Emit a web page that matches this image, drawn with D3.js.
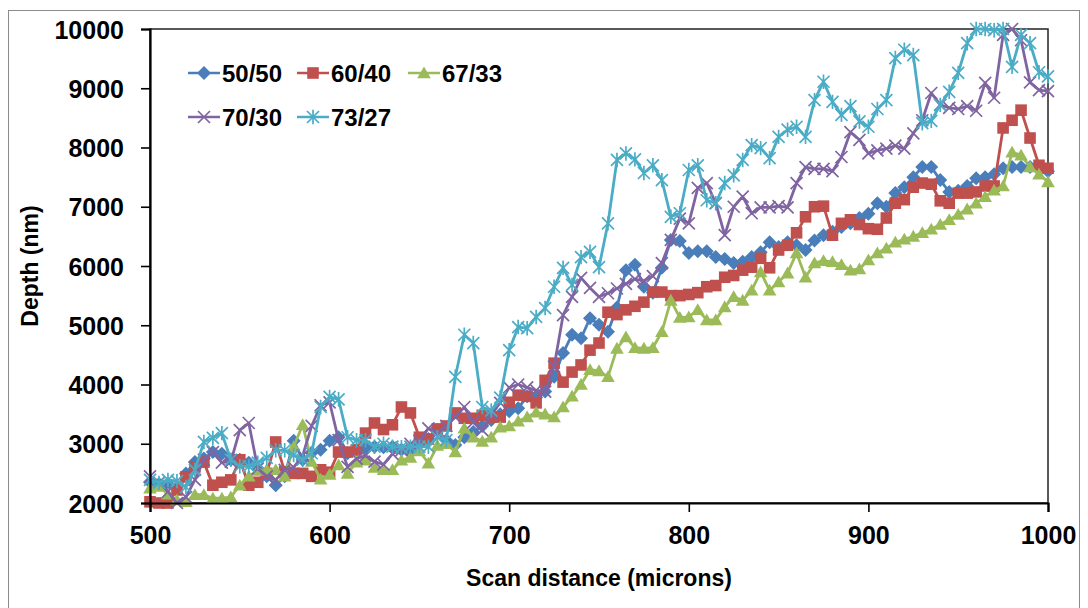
<!DOCTYPE html>
<html>
<head>
<meta charset="utf-8">
<script src="https://cdn.jsdelivr.net/npm/d3@7"></script>
<style>
body { margin: 0; background: #fff; }
text { font-family: "Liberation Sans", Arial, sans-serif; font-weight: bold; fill: #000; }
</style>
</head>
<body>
<svg id="chart"></svg>
<script>
// scan positions (microns)
const scanX = [
	500, 505, 510, 515, 520, 525, 530, 535, 540, 545,
	550, 555, 560, 565, 570, 575, 580, 585, 590, 595,
	600, 605, 610, 615, 620, 625, 630, 635, 640, 645,
	650, 655, 660, 665, 670, 675, 680, 685, 690, 695,
	700, 705, 710, 715, 720, 725, 730, 735, 740, 745,
	750, 755, 760, 765, 770, 775, 780, 785, 790, 795,
	800, 805, 810, 815, 820, 825, 830, 835, 840, 845,
	850, 855, 860, 865, 870, 875, 880, 885, 890, 895,
	900, 905, 910, 915, 920, 925, 930, 935, 940, 945,
	950, 955, 960, 965, 970, 975, 980, 985, 990, 995,
	1000
];

// depth (nm) for each ratio
const depth5050 = [
	2350, 2320, 2320, 2270, 2500, 2690, 2750, 2860, 2830, 2730,
	2730, 2680, 2580, 2450, 2300, 2450, 3050, 2730, 2850, 2900,
	3050, 3110, 2840, 2900, 2930, 2950, 2940, 2950, 2900, 2850,
	3000, 3080, 3230, 3060, 2980, 3110, 3200, 3300, 3400, 3500,
	3550, 3600, 3800, 3780, 3880, 4130, 4530, 4840, 4780, 5120,
	5010, 4890, 5300, 5930, 6020, 5650, 5550, 5970, 6440, 6420,
	6220, 6250, 6250, 6150, 6120, 6050, 6070, 6150, 6230, 6400,
	6320, 6400, 6350, 6270, 6430, 6520, 6580, 6660, 6720, 6810,
	6880, 7060, 7000, 7230, 7330, 7500, 7670, 7670, 7450, 7250,
	7270, 7350, 7480, 7500, 7550, 7650, 7670, 7670, 7670, 7650,
	7600
];
const depth6040 = [
	2020, 2000, 2000, 2220, 2440, 2610, 2690, 2300, 2350, 2390,
	2730, 2300, 2350, 2500, 3030, 2530, 2500, 2500, 2450, 2560,
	2520, 2860, 2860, 2900, 3180, 3350, 3240, 3320, 3620, 3520,
	3110, 3080, 3250, 3300, 3520, 3430, 3430, 3480, 3450, 3450,
	3700, 3820, 3800, 3690, 4070, 4360, 4040, 4210, 4330, 4580,
	4700, 5220, 5180, 5260, 5320, 5390, 5560, 5560, 5500, 5500,
	5520, 5550, 5650, 5670, 5810, 5840, 5930, 5980, 6130, 5970,
	6270, 6350, 6560, 6830, 7000, 7010, 6520, 6720, 6780, 6700,
	6630, 6620, 6810, 7060, 7120, 7330, 7400, 7380, 7100, 7060,
	7230, 7230, 7250, 7350, 7350, 8330, 8460, 8630, 8160, 7700,
	7650
];
const depth6733 = [
	2250, 2280, 2150, 2050, 2020, 2140, 2140, 2080, 2080, 2100,
	2300, 2450, 2550, 2560, 2560, 2450, 2950, 3320, 2700, 2400,
	2480, 2640, 2500, 2690, 2720, 2600, 2560, 2560, 2720, 2770,
	2880, 2670, 2970, 3000, 2860, 3260, 3110, 3040, 3110, 3280,
	3300, 3380, 3450, 3530, 3500, 3450, 3620, 3800, 4000, 4250,
	4230, 4130, 4610, 4800, 4620, 4610, 4620, 4890, 5420, 5130,
	5140, 5260, 5090, 5090, 5310, 5480, 5420, 5590, 5900, 5590,
	5730, 5880, 6220, 5810, 6050, 6090, 6070, 6020, 5930, 5950,
	6100, 6220, 6300, 6400, 6450, 6500, 6560, 6620, 6700, 6780,
	6870, 6960, 7060, 7170, 7280, 7350, 7920, 7870, 7670, 7550,
	7420
];
const depth7030 = [
	2450, 2350, 2190, 2000, 2100, 2390, 2730, 2860, 2680, 2700,
	3230, 3350, 2580, 2450, 2390, 2560, 2600, 2800, 3300, 3650,
	3700, 3060, 2610, 2750, 2800, 2700, 2650, 2830, 2890, 3000,
	3050, 3260, 3180, 3300, 3450, 3620, 3360, 3230, 3500, 3690,
	3950, 4000, 3950, 3900, 3880, 4300, 5170, 5480, 5800, 5630,
	5480, 5540, 5620, 5700, 5780, 5750, 5830, 6050, 6440, 6800,
	6720, 7320, 7400, 7060, 6520, 7000, 7170, 6890, 6990, 6990,
	7010, 6990, 7400, 7670, 7640, 7640, 7600, 7840, 8260, 8130,
	7900, 7950, 7980, 8030, 7980, 8240, 8460, 8920, 8720, 8670,
	8650, 8700, 8620, 9090, 8840, 9900, 10000, 9810, 9100, 8970,
	8950
];
const depth7327 = [
	2390, 2340, 2390, 2370, 2270, 2560, 3030, 3100, 3180, 2730,
	2620, 2620, 2680, 2760, 2890, 2890, 2810, 2730, 2840, 3620,
	3790, 3750, 3110, 3060, 3060, 2950, 3000, 2950, 2940, 2950,
	2950, 2950, 3110, 3060, 4130, 4840, 4700, 3620, 3560, 3780,
	4580, 4970, 4950, 5140, 5290, 5650, 5970, 5680, 6150, 6240,
	5980, 6720, 7790, 7900, 7800, 7570, 7700, 7450, 6830, 6890,
	7620, 7700, 7110, 7060, 7400, 7530, 7790, 8040, 7990, 7820,
	8180, 8300, 8350, 8180, 8800, 9110, 8770, 8550, 8700, 8440,
	8350, 8650, 8800, 9510, 9650, 9560, 8410, 8450, 8720, 8940,
	9260, 9760, 10000, 10000, 9980, 10000, 9360, 9900, 9760, 9270,
	9200
];

const seriesNames = ["50/50", "60/40", "67/33", "70/30", "73/27"];
const seriesValues = [depth5050, depth6040, depth6733, depth7030, depth7327];
const seriesColors = ["#4A7EBB", "#C0504D", "#9BBB59", "#8064A2", "#4BACC6"];
const seriesMarkers = ["diamond", "square", "triangle", "x", "star"];
const xTicks = [500, 600, 700, 800, 900, 1000];
const yTicks = [2000, 3000, 4000, 5000, 6000, 7000, 8000, 9000, 10000];

const width = 1088;
const height = 608;
const plot = { left: 150, right: 1048, top: 29, bottom: 503 };

const svg = d3.select("#chart")
	.attr("width", width)
	.attr("height", height);

// outer frame
svg.append("rect")
	.attr("x", 8.5).attr("y", 10.5)
	.attr("width", 1071).attr("height", 620)
	.attr("fill", "none")
	.attr("stroke", "#8c8c8c")
	.attr("stroke-width", 1);

const xScale = d3.scaleLinear([500, 1000], [plot.left, plot.right]);
const yScale = d3.scaleLinear([2000, 10000], [plot.bottom, plot.top]);

// plot box
svg.append("rect")
	.attr("x", plot.left).attr("y", plot.top)
	.attr("width", plot.right - plot.left)
	.attr("height", plot.bottom - plot.top)
	.attr("fill", "none")
	.attr("stroke", "#222")
	.attr("stroke-width", 1.5);

function markerPath(type, r) {
	switch (type) {
		case "diamond": return `M0,${-r}L${r},0L0,${r}L${-r},0Z`;
		case "square": return `M${-r},${-r}H${r}V${r}H${-r}Z`;
		case "triangle": return `M0,${-r * 1.05}L${r * 1.1},${r * 0.85}L${-r * 1.1},${r * 0.85}Z`;
		case "x": return `M${-r},${-r}L${r},${r}M${-r},${r}L${r},${-r}`;
		case "star": return `M${-r},${-r}L${r},${r}M${-r},${r}L${r},${-r}M0,${-r * 1.2}V${r * 1.2}`;
	}
}
const markerSize = { diamond: 7, square: 5.8, triangle: 6.2, x: 6, star: 6 };

function drawMarker(g, type, color) {
	const filled = type === "diamond" || type === "square" || type === "triangle";
	g.append("path")
		.attr("d", markerPath(type, markerSize[type]))
		.attr("fill", filled ? color : "none")
		.attr("stroke", color)
		.attr("stroke-width", filled ? 0 : 1.7);
}

const line = d3.line()
	.x((d, i) => xScale(scanX[i]))
	.y(d => yScale(d));

seriesValues.forEach((values, k) => {
	const g = svg.append("g");
	g.append("path")
		.datum(values)
		.attr("d", line)
		.attr("fill", "none")
		.attr("stroke", seriesColors[k])
		.attr("stroke-width", 2.8)
		.attr("stroke-linejoin", "round");
	g.selectAll("g.mk")
		.data(values)
		.join("g")
		.attr("class", "mk")
		.attr("transform", (d, i) => `translate(${xScale(scanX[i])},${yScale(d)})`)
		.each(function() { drawMarker(d3.select(this), seriesMarkers[k], seriesColors[k]); });
});

// y axis
svg.append("g")
	.attr("transform", `translate(${plot.left},0)`)
	.call(d3.axisLeft(yScale).tickValues(yTicks).tickSize(9).tickPadding(17).tickFormat(d3.format("d")))
	.call(g => g.select(".domain").attr("stroke", "#000").attr("stroke-width", 2.2))
	.call(g => g.selectAll(".tick line").attr("stroke", "#000").attr("stroke-width", 1.6))
	.call(g => g.selectAll(".tick text").attr("font-size", 25).attr("font-family", null).attr("dy", "0.36em"));

// x axis
svg.append("g")
	.attr("transform", `translate(0,${plot.bottom})`)
	.call(d3.axisBottom(xScale).tickValues(xTicks).tickSize(9).tickPadding(14).tickFormat(d3.format("d")))
	.call(g => g.select(".domain").attr("stroke", "#000").attr("stroke-width", 2.2))
	.call(g => g.selectAll(".tick line").attr("stroke", "#000").attr("stroke-width", 1.6))
	.call(g => g.selectAll(".tick text").attr("font-size", 25).attr("font-family", null));

// axis titles
svg.append("text")
	.attr("x", (plot.left + plot.right) / 2)
	.attr("y", 586)
	.attr("text-anchor", "middle")
	.attr("font-size", 23)
	.text("Scan distance (microns)");

svg.append("text")
	.attr("transform", `translate(38,${(plot.top + plot.bottom) / 2}) rotate(-90)`)
	.attr("text-anchor", "middle")
	.attr("font-size", 23)
	.text("Depth (nm)");

// legend
const legendPos = [[188, 73], [297, 73], [408, 73], [188, 117], [297, 117]];
seriesNames.forEach((name, k) => {
	const [lx, ly] = legendPos[k];
	const g = svg.append("g").attr("transform", `translate(${lx},${ly})`);
	g.append("line")
		.attr("x1", 0).attr("x2", 32)
		.attr("stroke", seriesColors[k])
		.attr("stroke-width", 2.5);
	const mk = g.append("g").attr("transform", "translate(16,0)");
	drawMarker(mk, seriesMarkers[k], seriesColors[k]);
	g.append("text")
		.attr("x", 34)
		.attr("dy", "0.36em")
		.attr("font-size", 24)
		.text(name);
});
</script>
</body>
</html>
